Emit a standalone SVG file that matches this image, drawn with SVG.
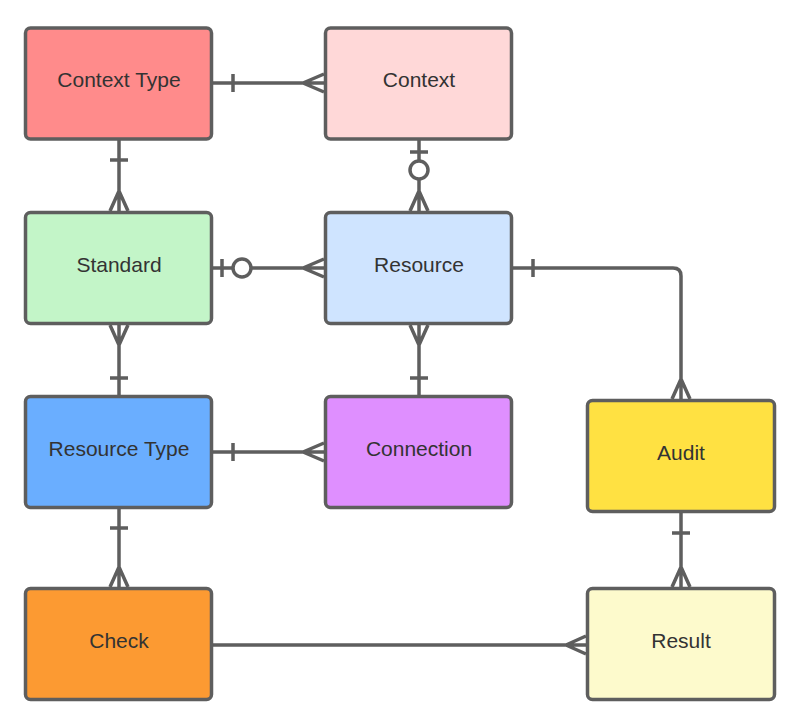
<svg xmlns="http://www.w3.org/2000/svg" width="800" height="725" viewBox="0 0 800 725">
<style>
.box{stroke:#5e5e5e;stroke-width:3.5}
.lbl{font-family:"Liberation Sans",Arial,sans-serif;font-size:21px;fill:#333333;text-anchor:middle;dominant-baseline:central}
.ln{fill:none;stroke:#5e5e5e;stroke-width:3.5;stroke-linejoin:round}
</style>
<rect width="800" height="725" fill="#ffffff"/>
<g id="connectors" class="ln">
  <!-- Context Type - Context -->
  <path d="M212 83H325M233 74V92M303 83L324 74M303 83L324 92"/>
  <!-- Context - Resource -->
  <path d="M419 139V161M419 179V212M410 152H428M419 191L410 211M419 191L428 211"/>
  <circle cx="419" cy="170" r="9"/>
  <!-- Context Type - Standard -->
  <path d="M119 139V212M110 160H128M119 191L110 211M119 191L128 211"/>
  <!-- Standard - Resource -->
  <path d="M212 268H233M251 268H325M222 259V277M303 268L324 259M303 268L324 277"/>
  <circle cx="242" cy="268" r="9"/>
  <!-- Resource - Audit -->
  <path d="M512 268H673Q681 268 681 276V400M533 259V277M681 379L672 399M681 379L690 399"/>
  <!-- Standard - Resource Type -->
  <path d="M119 324V396M119 345L110 325M119 345L128 325M110 378H128"/>
  <!-- Resource - Connection -->
  <path d="M419 324V396M419 345L410 325M419 345L428 325M410 378H428"/>
  <!-- Resource Type - Connection -->
  <path d="M212 452H325M233 443V461M303 452L324 443M303 452L324 461"/>
  <!-- Resource Type - Check -->
  <path d="M119 508V588M110 528H128M119 567L110 587M119 567L128 587"/>
  <!-- Audit - Result -->
  <path d="M681 513V588M672 533H690M681 567L672 587M681 567L690 587"/>
  <!-- Check - Result -->
  <path d="M212 645H587M566 645L586 636M566 645L586 654"/>
</g>
<g id="context-type"><rect class="box" x="25.5" y="28" width="186" height="111" rx="5" fill="#ff8b8b"/><text class="lbl" x="119" y="79">Context Type</text></g>
<g id="context"><rect class="box" x="325.5" y="28" width="186" height="111" rx="5" fill="#ffd8d8"/><text class="lbl" x="419" y="79">Context</text></g>
<g id="standard"><rect class="box" x="25.5" y="212.5" width="186" height="111" rx="5" fill="#c3f5c8"/><text class="lbl" x="119" y="264">Standard</text></g>
<g id="resource"><rect class="box" x="325.5" y="212.5" width="186" height="111" rx="5" fill="#cfe4ff"/><text class="lbl" x="419" y="264">Resource</text></g>
<g id="resource-type"><rect class="box" x="25.5" y="396.5" width="186" height="111" rx="5" fill="#6aaeff"/><text class="lbl" x="119" y="448">Resource Type</text></g>
<g id="connection"><rect class="box" x="325.5" y="396.5" width="186" height="111" rx="5" fill="#df8fff"/><text class="lbl" x="419" y="448">Connection</text></g>
<g id="audit"><rect class="box" x="587.5" y="400.5" width="187" height="111" rx="5" fill="#ffe142"/><text class="lbl" x="681" y="452">Audit</text></g>
<g id="check"><rect class="box" x="25.5" y="588.5" width="186" height="111" rx="5" fill="#fc9a32"/><text class="lbl" x="119" y="640">Check</text></g>
<g id="result"><rect class="box" x="587.5" y="588.5" width="187" height="111" rx="5" fill="#fdfacc"/><text class="lbl" x="681" y="640">Result</text></g>
</svg>
